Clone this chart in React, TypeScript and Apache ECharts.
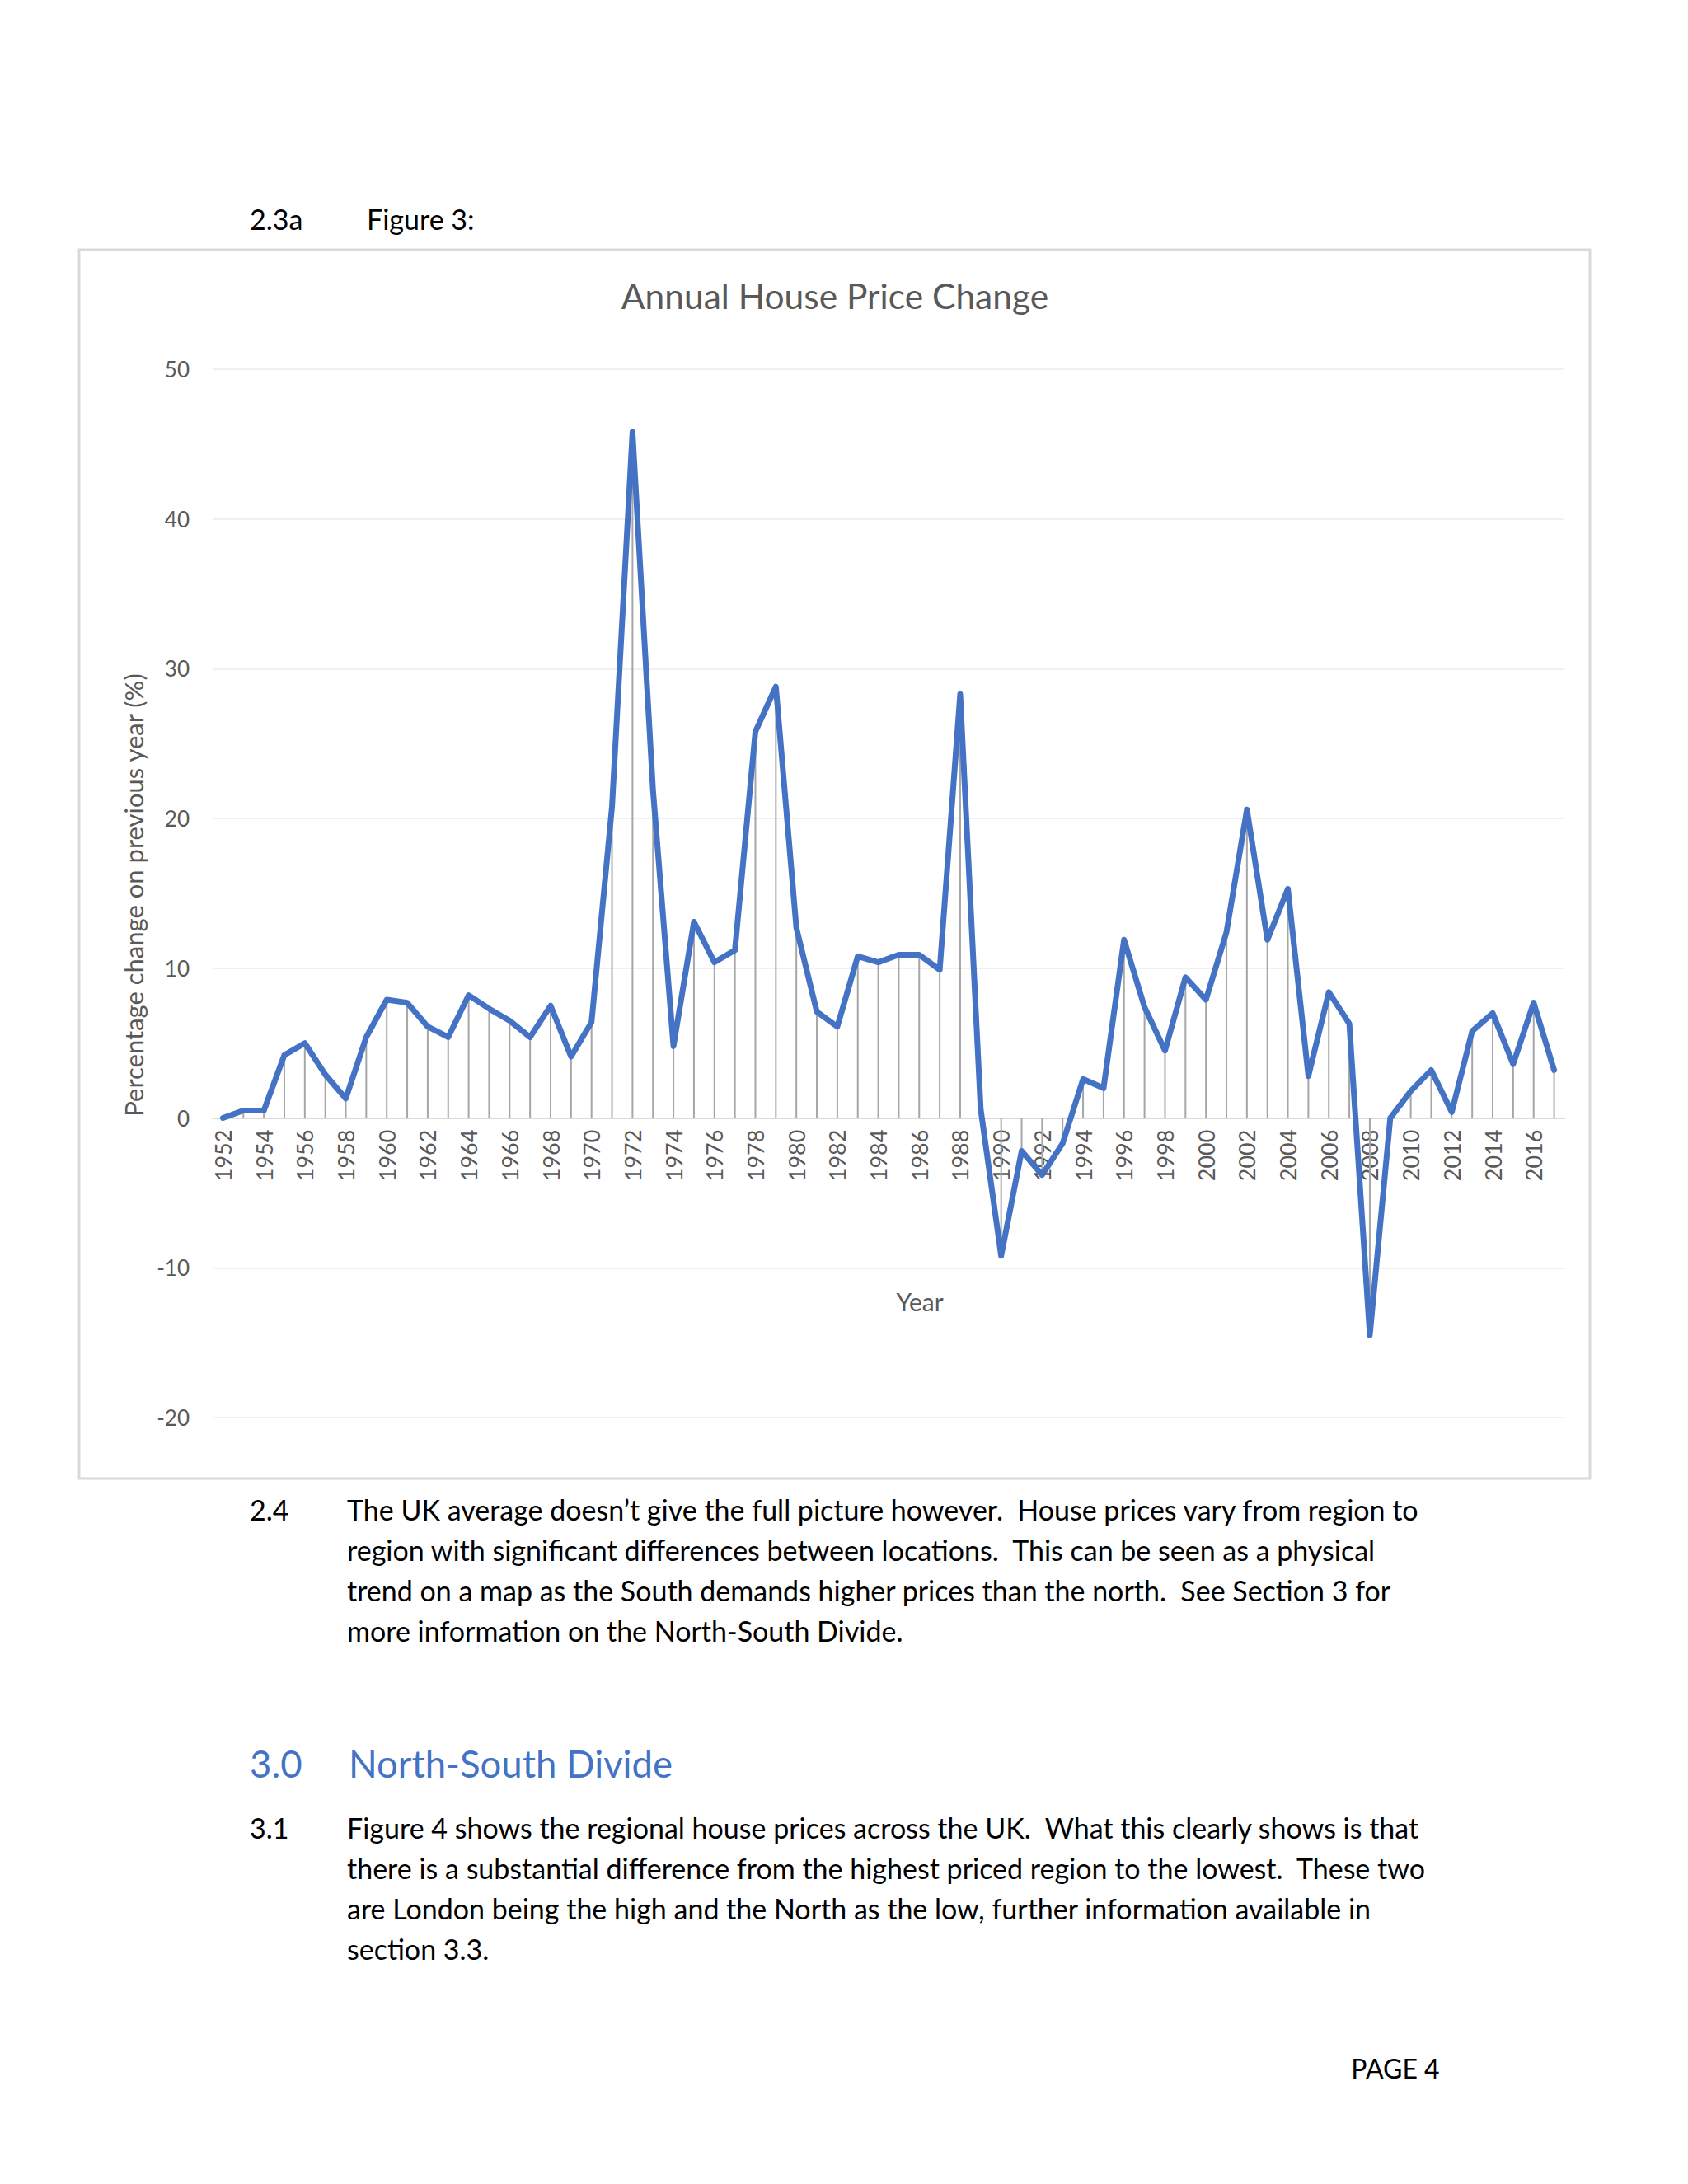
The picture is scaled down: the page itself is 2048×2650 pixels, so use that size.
import React, { useEffect, useRef } from "react";
import * as echarts from "echarts";

const years = [
  "1952", "1953", "1954", "1955", "1956", "1957", "1958", "1959", "1960", "1961",
  "1962", "1963", "1964", "1965", "1966", "1967", "1968", "1969", "1970", "1971",
  "1972", "1973", "1974", "1975", "1976", "1977", "1978", "1979", "1980", "1981",
  "1982", "1983", "1984", "1985", "1986", "1987", "1988", "1989", "1990", "1991",
  "1992", "1993", "1994", "1995", "1996", "1997", "1998", "1999", "2000", "2001",
  "2002", "2003", "2004", "2005", "2006", "2007", "2008", "2009", "2010", "2011",
  "2012", "2013", "2014", "2015", "2016", "2017",
];

const priceChange = [
  0.0, 0.5, 0.5, 4.2, 5.0, 2.9, 1.3, 5.4, 7.9, 7.7,
  6.1, 5.4, 8.2, 7.3, 6.5, 5.4, 7.5, 4.1, 6.4, 20.8,
  45.8, 21.9, 4.8, 13.1, 10.4, 11.2, 25.8, 28.8, 12.7, 7.1,
  6.1, 10.8, 10.4, 10.9, 10.9, 9.9, 28.3, 0.6, -9.2, -2.2,
  -3.8, -1.7, 2.6, 2.0, 11.9, 7.4, 4.5, 9.4, 7.9, 12.4,
  20.6, 11.9, 15.3, 2.8, 8.4, 6.3, -14.5, 0.0, 1.8, 3.2,
  0.4, 5.8, 7.0, 3.6, 7.7, 3.2,
];

const yMin = -20;
const yMax = 50;
const yStep = 10;

const chartTitle = "Annual House Price Change";
const xAxisTitle = "Year";
const yAxisTitle = "Percentage change on previous year (%)";

const para24 = [
  "The UK average doesn\u2019t give the full picture however.  House prices vary from region to",
  "region with significant differences between locations.  This can be seen as a physical",
  "trend on a map as the South demands higher prices than the north.  See Section 3 for",
  "more information on the North-South Divide.",
];

const para31 = [
  "Figure 4 shows the regional house prices across the UK.  What this clearly shows is that",
  "there is a substantial difference from the highest priced region to the lowest.  These two",
  "are London being the high and the North as the low, further information available in",
  "section 3.3.",
];

const FONT = "Lato, 'Open Sans', sans-serif";

export default function App() {
  const ref = useRef<HTMLDivElement>(null);

  useEffect(() => {
    if (!ref.current) return;
    const chart = echarts.init(ref.current, null, { renderer: "svg" });

    const H = 2650;
    const gridTop = 448;
    const gridBottomPx = 1720;
    const zeroY = gridTop + ((yMax - 0) / (yMax - yMin)) * (gridBottomPx - gridTop);

    const bodyText = (txt: string, x: number, y: number, extra: any = {}) => ({
      type: "text",
      x,
      y,
      silent: true,
      style: {
        text: txt,
        fill: "#000000",
        font: `34px ${FONT}`,
        align: "left",
        verticalAlign: "middle",
        ...extra,
      },
    });

    const graphics: any[] = [
      {
        type: "rect",
        shape: { x: 96, y: 303, width: 1833, height: 1491 },
        style: { fill: "none", stroke: "#d9d9d9", lineWidth: 3 },
        silent: true,
        z: -10,
      },
      bodyText("2.3a", 303, 265),
      bodyText("Figure 3:", 445, 265),
      {
        type: "text",
        x: 1013,
        y: 358,
        silent: true,
        style: {
          text: chartTitle,
          fill: "#595959",
          font: `42.5px ${FONT}`,
          align: "center",
          verticalAlign: "middle",
        },
      },
      {
        type: "text",
        x: 1116,
        y: 1579,
        silent: true,
        style: {
          text: xAxisTitle,
          fill: "#595959",
          font: `30px ${FONT}`,
          align: "center",
          verticalAlign: "middle",
        },
      },
      {
        type: "text",
        x: 162,
        y: 1086,
        rotation: Math.PI / 2,
        silent: true,
        style: {
          text: yAxisTitle,
          fill: "#595959",
          font: `31px ${FONT}`,
          align: "center",
          verticalAlign: "middle",
        },
      },
      bodyText("2.4", 303, 1831),
      ...para24.map((t, i) => bodyText(t, 421, 1831 + i * 49.3)),
      bodyText("3.0", 303, 2139, { fill: "#4472C4", font: `45.5px ${FONT}` }),
      bodyText("North-South Divide", 423, 2139, { fill: "#4472C4", font: `45.5px ${FONT}` }),
      bodyText("3.1", 303, 2217),
      ...para31.map((t, i) => bodyText(t, 421, 2217 + i * 49.3)),
      bodyText("PAGE 4", 1693, 2509, { align: "center", font: `32px ${FONT}` }),
    ];

    chart.setOption({
      animation: false,
      backgroundColor: "#ffffff",
      textStyle: { fontFamily: FONT },
      grid: [
        { left: 258, right: 150, top: gridTop, bottom: H - gridBottomPx, containLabel: false },
        { left: 258, right: 150, top: gridTop, bottom: H - zeroY, containLabel: false },
      ],
      xAxis: [
        {
          type: "category",
          gridIndex: 0,
          data: years,
          boundaryGap: true,
          axisLine: { show: false },
          axisTick: { show: false },
          axisLabel: { show: false },
          splitLine: { show: false },
        },
        {
          type: "category",
          gridIndex: 1,
          data: years,
          boundaryGap: true,
          position: "bottom",
          axisLine: { show: true, onZero: false, lineStyle: { color: "#d9d9d9", width: 2 } },
          axisTick: { show: false },
          axisLabel: {
            interval: 1,
            rotate: 90,
            color: "#595959",
            fontSize: 27,
            fontFamily: FONT,
            margin: 14,
          },
          splitLine: { show: false },
          z: 0,
        },
      ],
      yAxis: [
        {
          type: "value",
          gridIndex: 0,
          min: yMin,
          max: yMax,
          interval: yStep,
          axisLine: { show: false },
          axisTick: { show: false },
          axisLabel: { color: "#595959", fontSize: 26, fontFamily: FONT, margin: 28 },
          splitLine: { lineStyle: { color: "#ebebeb", width: 1.5 } },
        },
        {
          type: "value",
          gridIndex: 1,
          min: 0,
          max: yMax,
          interval: yStep,
          show: false,
          splitLine: { show: false },
        },
      ],
      series: [
        {
          type: "bar",
          xAxisIndex: 0,
          yAxisIndex: 0,
          data: priceChange,
          barWidth: 2,
          itemStyle: { color: "#a6a6a6" },
          silent: true,
          z: 1,
        },
        {
          type: "line",
          xAxisIndex: 0,
          yAxisIndex: 0,
          data: priceChange,
          showSymbol: false,
          symbol: "none",
          lineStyle: { color: "#4472C4", width: 7, cap: "round", join: "round" },
          silent: true,
          z: 3,
        },
      ],
      graphic: graphics,
    });

    return () => chart.dispose();
  }, []);

  return (
    <div
      ref={ref}
      style={{ position: "absolute", left: 0, top: 0, width: 2048, height: 2650 }}
    />
  );
}
